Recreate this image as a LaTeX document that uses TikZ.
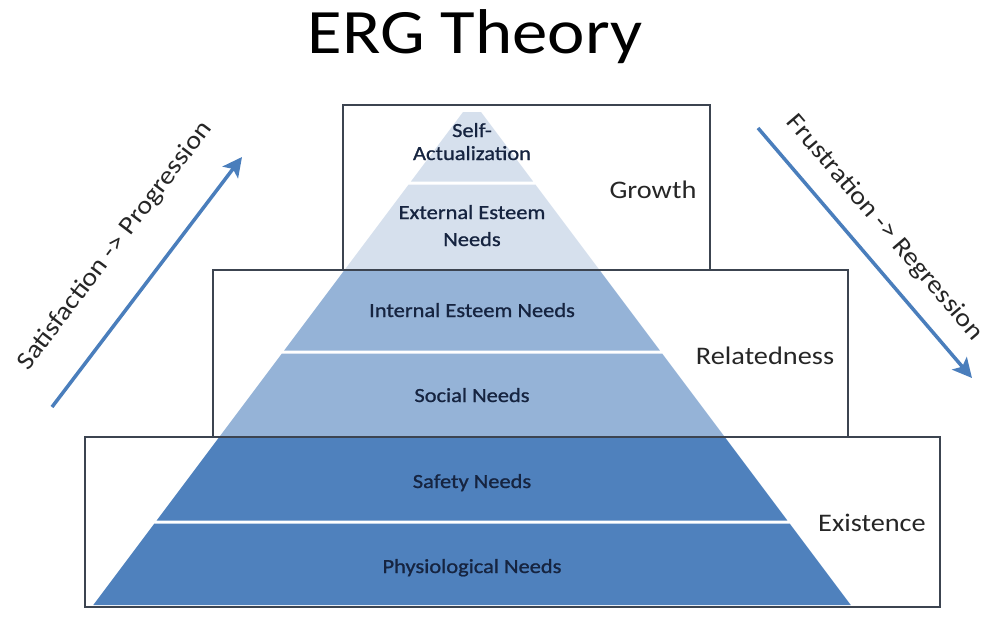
\documentclass[tikz,border=0pt]{standalone}
\usepackage{fontspec}
\setmainfont[FakeStretch=1.12]{Carlito}
\newfontfamily\capafont[FakeStretch=1.12, FakeBold=1]{Carlito}
\usetikzlibrary{arrows.meta}
\definecolor{ergclaro}{RGB}{214,224,237}
\definecolor{ergmedio}{RGB}{149,179,215}
\definecolor{ergoscuro}{RGB}{79,129,189}
\definecolor{ergborde}{RGB}{60,68,80}
\definecolor{ergtexto}{RGB}{22,36,64}
\definecolor{ergflecha}{RGB}{74,126,188}
\begin{document}
\begin{tikzpicture}[x=0.02cm, y=-0.02cm,
    caja/.style={draw=ergborde, line width=1.1pt},
    nivel/.style={anchor=base, inner sep=0pt, text=ergtexto, font=\capafont\fontsize{11.4}{13}\selectfont},
    grupo/.style={anchor=base, inner sep=0pt, text=black!85, font=\fontsize{14.4}{17}\selectfont},
    flecha/.style={ergflecha, line width=2pt, -{Stealth[length=11pt, width=11pt, inset=2.5pt]}}]
    \useasboundingbox (0,0) rectangle (988,626);
    % Titulo
    \node[anchor=base, inner sep=0pt, font=\fontsize{36}{40}\selectfont] (titulo) at (475,53) {ERG Theory};
    % Capas de la piramide: mitad del ancho = 0.75*(y-100)
    \foreach \ya/\yb/\col in {112/181.5/ergclaro, 184.5/270/ergclaro, 270/350.5/ergmedio,
        353.5/437/ergmedio, 437/520.5/ergoscuro, 523.5/605/ergoscuro}
        \fill[\col] ({472-0.75*(\ya-100)},\ya) -- ({472+0.75*(\ya-100)},\ya)
            -- ({472+0.75*(\yb-100)},\yb) -- ({472-0.75*(\yb-100)},\yb) -- cycle;
    % Cajas ERG
    \draw[caja] (343,105) rectangle (710,270);
    \draw[caja] (213,270) rectangle (848,437);
    \draw[caja] (85,437) rectangle (940,607);
    % Textos de las capas
    \node[nivel] (autoa) at (472,137) {Self-};
    \node[nivel] (autob) at (472,160) {Actualization};
    \node[nivel] (estexta) at (472,219) {External Esteem};
    \node[nivel] (estextb) at (472,246) {Needs};
    \node[nivel] (estint) at (472,317) {Internal Esteem Needs};
    \node[nivel] (social) at (472,402) {Social Needs};
    \node[nivel] (seguridad) at (472,488) {Safety Needs};
    \node[nivel] (fisiol) at (472,573) {Physiological Needs};
    % Grupos
    \node[grupo] (growth) at (653,198) {Growth};
    \node[grupo] (related) at (765,364) {Relatedness};
    \node[grupo] (exist) at (872,531) {Existence};
    % Flechas laterales
    \coordinate (sat0) at (52,407);
    \coordinate (sat1) at (242,157);
    \coordinate (fru0) at (758,128);
    \coordinate (fru1) at (972,378);
    \draw[flecha] (sat0) -- node[pos=0.53, sloped, above=22pt, text depth=0pt, inner sep=0pt,
        text=black!85, font=\fontsize{14.5}{16}\selectfont] (satlab) {Satisfaction -> Progression} (sat1);
    \draw[flecha] (fru0) -- node[pos=0.48, sloped, above=13pt, text depth=0pt, inner sep=0pt,
        text=black!85, font=\fontsize{14.5}{16}\selectfont] (frulab) {Frustration -> Regression} (fru1);
\end{tikzpicture}
\end{document}
